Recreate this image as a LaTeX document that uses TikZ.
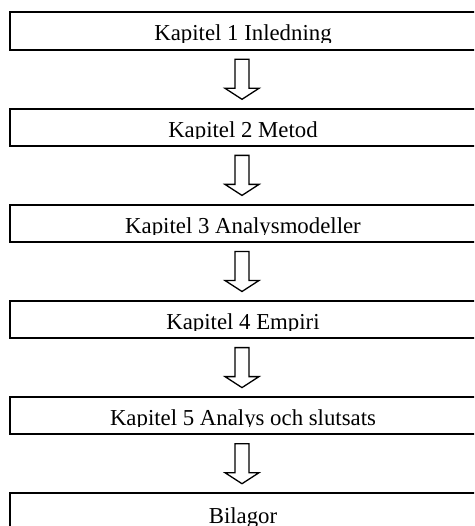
\documentclass[tikz,border=0pt]{standalone}
\usepackage{fontspec}
\setmainfont{Liberation Serif}
\usetikzlibrary{calc}
\tikzset{
  chapter/.style={draw=black, line width=2pt, minimum width=467pt,
    minimum height=37.5pt, inner sep=0pt, fill=white},
  title/.style={anchor=base, inner sep=0pt,
    font=\fontsize{22.8}{27}\selectfont},
  blockarrow/.style={draw=black, line width=1.3pt, fill=white, line join=miter},
  % hollow downward arrow, origin at its vertical centre
  pics/downarrow/.style={code={
    \path[blockarrow] (-7,-20) -- (7,-20) -- (7,9) -- (17,9) -- (0,20)
      -- (-17,9) -- (-7,9) -- cycle;}}
}
\begin{document}
\begin{tikzpicture}[x=1pt,y=-1pt]
  \clip (0,0) rectangle (474,526);
  \fill[white] (0,0) rectangle (474,526);

  % chapter boxes; the title text is cut just below its baseline
  \foreach \i/\txt/\base [evaluate=\i as \cy using {31.25+96.1*(\i-1)}] in {
      1/Kapitel 1 Inledning/29.5,
      2/Kapitel 2 Metod/29.5,
      3/Kapitel 3 Analysmodeller/29.5,
      4/Kapitel 4 Empiri/29.5,
      5/Kapitel 5 Analys och slutsats/29.5,
      6/Bilagor/31.5} {
    \node[chapter] (b\i) at (243,\cy) {};
    \begin{scope}
      \clip (b\i.north west) rectangle ($(b\i.north east)+(0,\base+1.5)$);
      \node[title] (t\i) at ($(b\i.north)+(0,\base)$) {\txt};
    \end{scope}
  }

  % arrows between consecutive chapters
  \foreach \i [evaluate=\i as \j using int(\i+1)] in {1,...,5}
    \pic at ($(b\i.south)!0.5!(b\j.north)+(-1,0)$) {downarrow};
\end{tikzpicture}
\end{document}
